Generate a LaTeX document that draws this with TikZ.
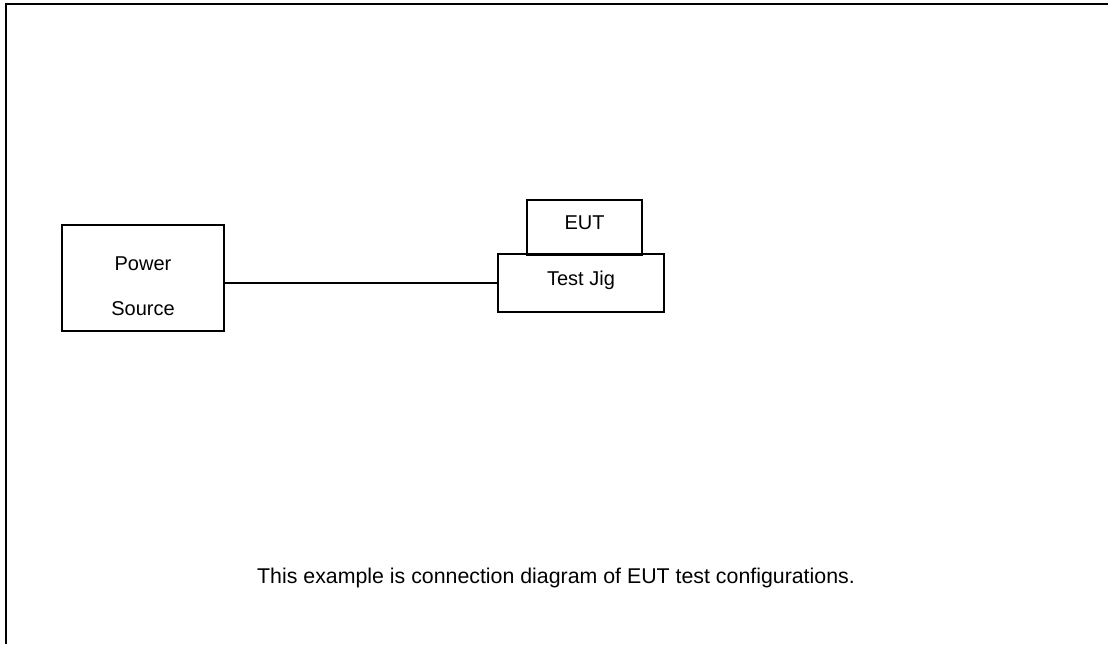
\documentclass[tikz,border=0pt]{standalone}
\usepackage{fontspec}
\setmainfont{Liberation Sans}
\usetikzlibrary{positioning}
\tikzset{
    frame/.style={draw=black, line width=2.2pt},
    unit/.style={draw=black, line width=0.9pt, inner sep=0pt},
    wire/.style={draw=black, line width=0.9pt},
}

\begin{document}
\begin{tikzpicture}[x=0.75pt, y=-0.75pt, font=\fontsize{15}{18}\selectfont]
	\useasboundingbox (0,0) rectangle (1108,644);
	\draw[frame] (6,644)--(6,4)--(1108,4);
	\node[unit, minimum width=121.5pt, minimum height=79.5pt] (power) at (143,278) {};
	\node (powertxt) at (143,264) {Power};
	\node (sourcetxt) at (143,309) {Source};
	\node[unit, minimum width=124.5pt, minimum height=43.5pt] (jig) at (581,283) {};
	\node[unit, minimum width=86.25pt, minimum height=41.25pt] (eut) at (584.5,227.5) {};
	\node (euttxt) at (584.5,223) {EUT};
	\node (jigtxt) at (581,280) {Test Jig};
	\draw[wire] (jig.west) -- (jig.west -| power.east);
	\node[font=\fontsize{16}{19}\selectfont] (caption) at (556,578) {This example is connection diagram of EUT test configurations.};
\end{tikzpicture}
\end{document}
